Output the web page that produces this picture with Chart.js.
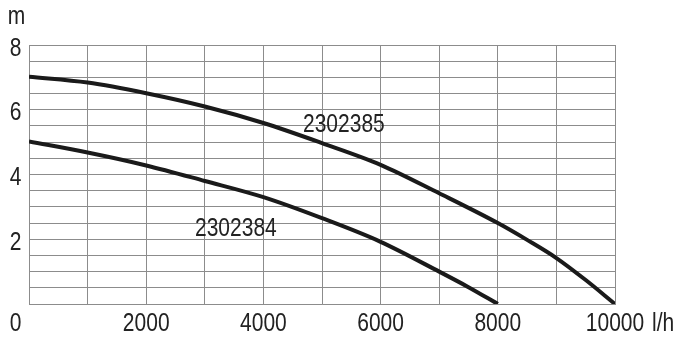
<!DOCTYPE html>
<html>
<head>
<meta charset="utf-8">
<script src="https://cdn.jsdelivr.net/npm/chart.js@4/dist/chart.umd.min.js"></script>
<style>
html,body{margin:0;padding:0;background:#fff;}
#wrap{width:699px;height:346px;position:relative;}
</style>
</head>
<body>
<div id="wrap"><canvas id="c" width="699" height="346"></canvas></div>
<script>
const flowLh = [0, 1000, 2000, 3000, 4000, 5000, 6000, 7000, 8000, 8500, 9000, 9500, 10000];
const head2302385 = [7.02, 6.84, 6.51, 6.10, 5.59, 4.97, 4.30, 3.42, 2.50, 1.98, 1.42, 0.74, 0];
const flowLh2 = [0, 1000, 2000, 3000, 4000, 5000, 6000, 7000, 7500, 8000];
const head2302384 = [5.02, 4.68, 4.28, 3.80, 3.30, 2.65, 1.92, 1.00, 0.52, 0];
const seriesNames = ['2302385', '2302384'];
const xTickLabels = ['0', '2000', '4000', '6000', '8000', '10000'];
const yTickLabels = ['2', '4', '6', '8'];
const yUnit = 'm';
const xUnit = 'l/h';

const FONT = '"Liberation Sans", Arial, sans-serif';
const TXT = '#222';
const SX = 0.84;

function narrowText(ctx, text, x, y, align) {
  ctx.save();
  ctx.translate(x, y);
  ctx.scale(SX, 1);
  ctx.textAlign = align;
  ctx.fillText(text, 0, 0);
  ctx.restore();
}

const annot = {
  id: 'annot',
  afterDraw(chart) {
    const ctx = chart.ctx;
    const xs = chart.scales.x, ys = chart.scales.y;
    ctx.save();
    ctx.fillStyle = TXT;
    ctx.font = '25px ' + FONT;
    ctx.textBaseline = 'alphabetic';
    xs.ticks.forEach(t => {
      const s = String(t.value);
      if (!xTickLabels.includes(s)) return;
      if (s === '0') { narrowText(ctx, s, 15.5, 331, 'center'); return; }
      narrowText(ctx, s, xs.getPixelForValue(t.value), 331, 'center');
    });
    ys.ticks.forEach(t => {
      const s = String(t.value);
      if (!yTickLabels.includes(s)) return;
      narrowText(ctx, s, 15.5, ys.getPixelForValue(t.value) + 10.5, 'center');
    });
    narrowText(ctx, yUnit, 16.5, 23.5, 'center');
    narrowText(ctx, xUnit, 652, 331, 'left');
    narrowText(ctx, seriesNames[0], 303, 132, 'left');
    narrowText(ctx, seriesNames[1], 195, 236, 'left');
    ctx.restore();
  }
};

new Chart(document.getElementById('c'), {
  type: 'line',
  data: {
    datasets: [
      { label: seriesNames[0], data: flowLh.map((x, i) => ({x, y: head2302385[i]})),
        borderColor: '#1a1a1a', borderWidth: 4, pointRadius: 0, cubicInterpolationMode: 'monotone', fill: false },
      { label: seriesNames[1], data: flowLh2.map((x, i) => ({x, y: head2302384[i]})),
        borderColor: '#1a1a1a', borderWidth: 4, pointRadius: 0, cubicInterpolationMode: 'monotone', fill: false }
    ]
  },
  options: {
    responsive: false,
    animation: false,
    devicePixelRatio: 1,
    layout: { padding: { top: 45, right: 84, left: 0, bottom: 0 } },
    plugins: { legend: { display: false }, tooltip: { enabled: false } },
    scales: {
      x: {
        type: 'linear', min: 0, max: 10000,
        ticks: { stepSize: 1000, display: false },
        grid: { color: '#8c8c8c', lineWidth: 1, drawTicks: false },
        border: { color: '#8c8c8c' },
        afterFit: (s) => { s.height = 42; }
      },
      y: {
        min: 0, max: 8,
        ticks: { stepSize: 0.5, display: false },
        grid: { color: '#8c8c8c', lineWidth: 1, drawTicks: false },
        border: { color: '#8c8c8c' },
        afterFit: (s) => { s.width = 29; }
      }
    }
  },
  plugins: [annot]
});
</script>
</body>
</html>
